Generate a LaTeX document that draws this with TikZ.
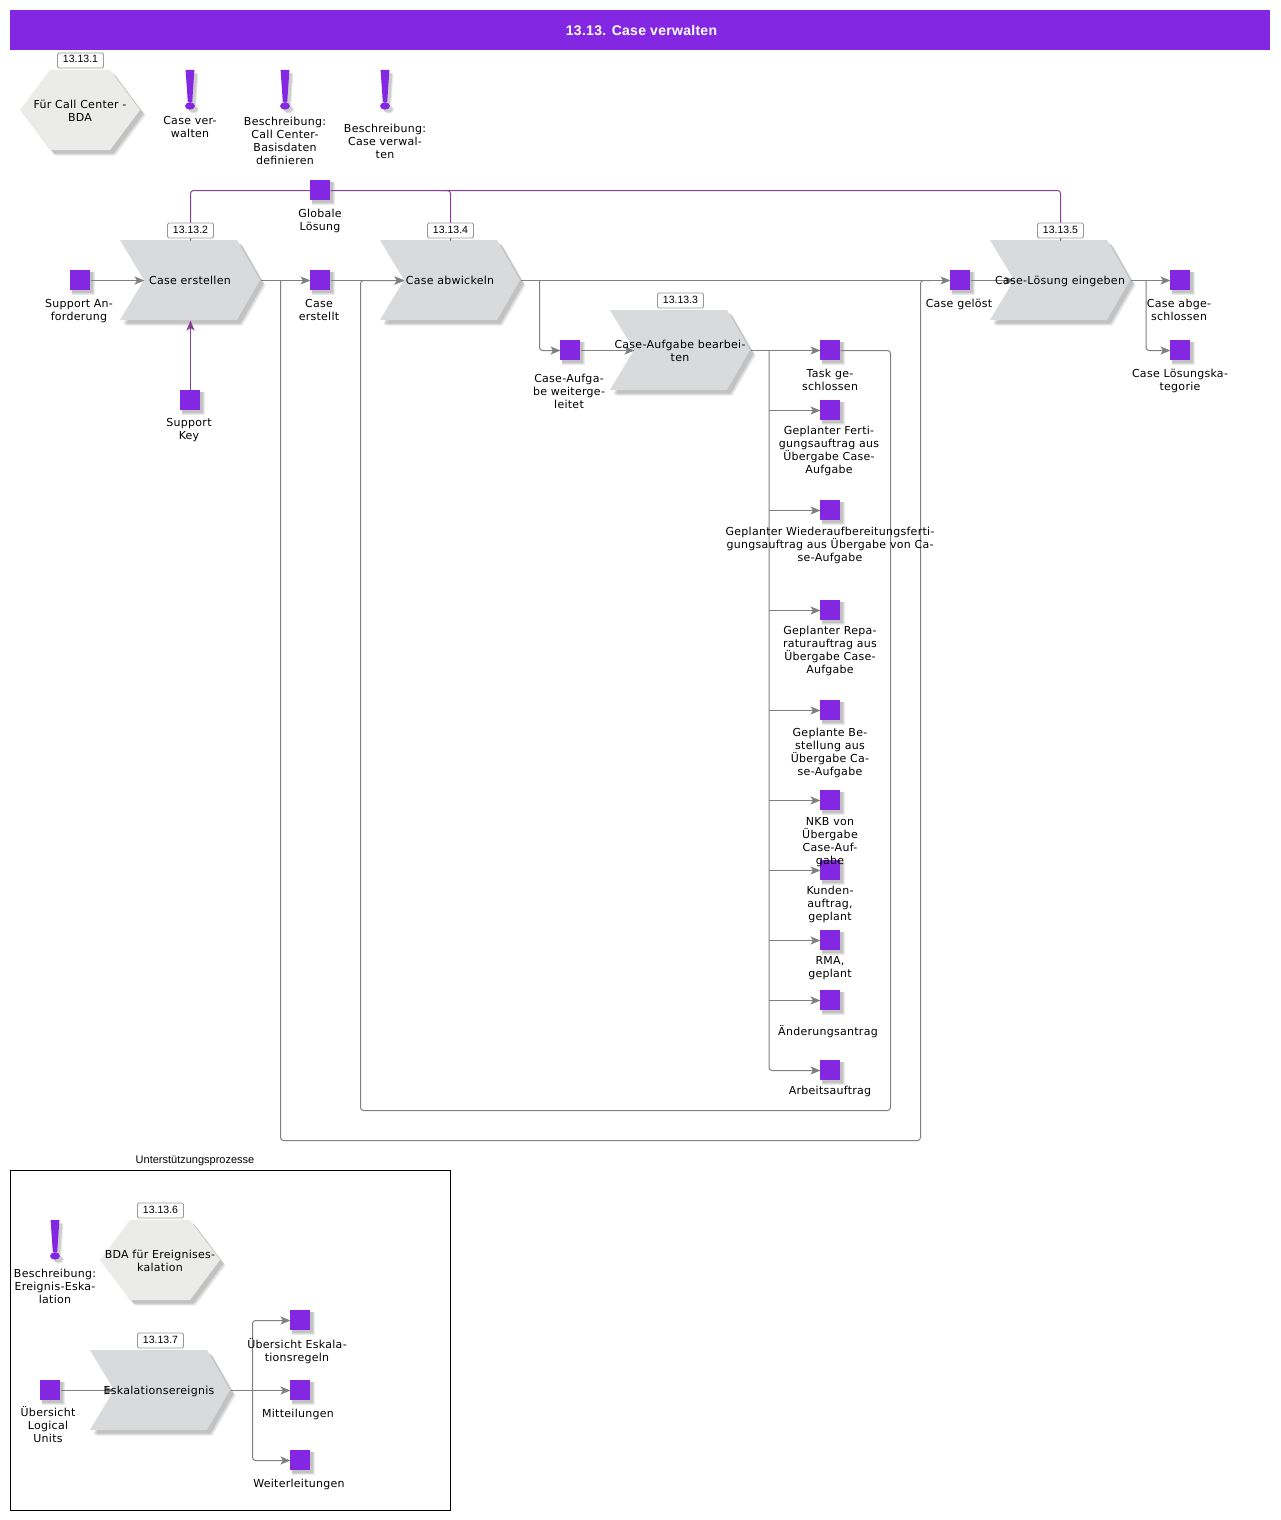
\documentclass[tikz,border=0pt]{standalone}
\usepackage{fontspec}
\setmainfont{DejaVu Sans}[LetterSpace=2.5]
\newfontfamily\libsans{Liberation Sans}
\newfontfamily\titlefont{Liberation Sans}[LetterSpace=2]
\usetikzlibrary{arrows.meta,calc}
\definecolor{evpurple}{HTML}{8427E2}
\definecolor{funcgray}{HTML}{D9DADC}
\definecolor{hexgray}{HTML}{EBEBEA}
\definecolor{linegray}{HTML}{808080}
\definecolor{infolink}{HTML}{883D98}
\definecolor{shadowgray}{HTML}{909090}
\tikzset{
  x=1pt,y=-1pt,
  evt/.style={fill=evpurple,inner sep=0pt,minimum size=20pt,outer sep=0pt},
  lab/.style={align=center,inner sep=0pt,outer sep=0pt,yshift=-1.5pt,font=\fontsize{11}{13}\selectfont,text=black,
    execute at begin node={\rule{0pt}{9pt}},execute at end node={\rule[-3pt]{0pt}{3pt}}},
  badge/.style={draw=black!40,fill=white,rounded corners=1.5pt,line width=.8pt,minimum width=46pt,minimum height=15pt,inner sep=0pt,text height=7.5pt,text depth=2.5pt,font=\libsans\fontsize{10.5}{12}\selectfont},
  tip/.style={-{Stealth[length=10pt,width=8pt,inset=2.5pt]}},
  flow/.style={draw=linegray,line width=1pt,rounded corners=3pt,tip},
  flowsharp/.style={draw=linegray,line width=1pt,tip},
  flowplain/.style={draw=linegray,line width=1pt,rounded corners=3pt},
  info/.style={draw=infolink,line width=1pt,rounded corners=3pt},
  softa/.style={fill=shadowgray,opacity=.18},
  softb/.style={fill=shadowgray,opacity=.3},
}
\newcommand{\evnode}[3]{%
  \fill[softa] (#2-8,#3-8) rectangle (#2+15,#3+15);
  \fill[softa] (#2-8,#3-8) rectangle (#2+14,#3+14);
  \fill[softb] (#2-8,#3-8) rectangle (#2+13,#3+13);
  \node[evt] (#1) at (#2,#3) {};}
\newcommand{\chevpath}{(-70,-40) -- (47,-40) -- (70,0) -- (47,40) -- (-70,40) -- (-46,0) -- cycle}
\newcommand{\chevnode}[3]{%
  \begin{scope}[shift={(#2+5.5,#3+5.5)}]\fill[softa] \chevpath;\end{scope}
  \begin{scope}[shift={(#2+4.5,#3+4.5)}]\fill[softa] \chevpath;\end{scope}
  \begin{scope}[shift={(#2+3.5,#3+3.5)}]\fill[softb] \chevpath;\end{scope}
  \begin{scope}[shift={(#2,#3)}]\fill[funcgray] \chevpath;\end{scope}
  \node[inner sep=0pt,outer sep=0pt,minimum width=140pt,minimum height=80pt] (#1) at (#2,#3) {};
  \coordinate (#1n) at (#2-46,#3);}
\newcommand{\hexpath}{(-60,0) -- (-30,-40) -- (30,-40) -- (60,0) -- (30,40) -- (-30,40) -- cycle}
\newcommand{\hexnode}[3]{%
  \begin{scope}[shift={(#2+5.5,#3+5.5)}]\fill[softa] \hexpath;\end{scope}
  \begin{scope}[shift={(#2+4.5,#3+4.5)}]\fill[softa] \hexpath;\end{scope}
  \begin{scope}[shift={(#2+3.5,#3+3.5)}]\fill[softb] \hexpath;\end{scope}
  \begin{scope}[shift={(#2,#3)}]\fill[hexgray] \hexpath;\end{scope}
  \node[inner sep=0pt,outer sep=0pt,minimum width=120pt,minimum height=80pt] (#1) at (#2,#3) {};}
\newcommand{\exclpath}{(-4.4,-20) -- (4.4,-20) -- (2.2,12) -- (-2.2,12) -- cycle (0,16) ellipse [x radius=5pt,y radius=3.6pt]}
\newcommand{\excl}[2]{%
  \begin{scope}[shift={(#1+4,#2+4)}]\fill[softa] \exclpath;\end{scope}
  \begin{scope}[shift={(#1+3,#2+3)}]\fill[softb] \exclpath;\end{scope}
  \begin{scope}[shift={(#1,#2)}]\fill[evpurple] \exclpath;\end{scope}}
\begin{document}
\begin{tikzpicture}
\useasboundingbox (0,0) rectangle (1280,1520);
\fill[white] (0,0) rectangle (1280,1520);
\node[fill=evpurple,minimum width=1260pt,minimum height=40pt,inner sep=0pt,outer sep=0pt] (title) at (640,30) {};
\node[text=white,inner sep=0pt,font=\titlefont\bfseries\fontsize{14}{16}\selectfont] (titletext) at (641.5,30.5) {13.13. Case verwalten};
\node[draw=black,line width=1pt,minimum width=440pt,minimum height=340pt,inner sep=0pt] (frame) at (230.5,1340.5) {};
\node[font=\libsans\fontsize{11}{13}\selectfont,inner sep=0pt] (frametitle) at (195,1161) {Unterstützungsprozesse};
\hexnode{h1}{80}{110}
\hexnode{h2}{160}{1260}
\excl{190}{90}
\excl{285}{90}
\excl{385}{90}
\excl{55}{1240}
\chevnode{f1}{190}{280}
\chevnode{f2}{450}{280}
\chevnode{f3}{680}{350}
\chevnode{f4}{1060}{280}
\chevnode{f5}{160}{1390}
\evnode{support}{80}{280}
\evnode{caseerst}{320}{280}
\evnode{key}{190}{400}
\evnode{global}{320}{190}
\evnode{weiter}{570}{350}
\evnode{task}{830}{350}
\evnode{ferti}{830}{410}
\evnode{wieder}{830}{510}
\evnode{repa}{830}{610}
\evnode{best}{830}{710}
\evnode{nkb}{830}{800}
\evnode{kunde}{830}{870}
\evnode{rma}{830}{940}
\evnode{aend}{830}{1000}
\evnode{arbeit}{830}{1070}
\evnode{geloest}{960}{280}
\evnode{abge}{1180}{280}
\evnode{loes}{1180}{350}
\evnode{logical}{50}{1390}
\evnode{regeln}{300}{1320}
\evnode{mitt}{300}{1390}
\evnode{weiterl}{300}{1460}
\coordinate (gj) at (440,190);
\coordinate (tr) at (768.5,350);
\coordinate (tr4) at (1145.5,280);
\coordinate (tr5) at (252,1390);
\coordinate (tr2) at (539,280);
\coordinate (tr1) at (280,280);
\coordinate (tr1e) at (930,280);
\begin{scope}[transform canvas={shift={(0.5,0.5)}}]
\draw[info] (global.west) -| (f1.north);
\draw[info] (global.east) -| (f4.north);
\draw[info] (gj) -| (f2.north);
\draw[draw=infolink,line width=1pt,tip] (key.north) -- (f1.south);
\draw[flow] (support.east) -- (f1n);
\draw[flow] (f1.east) -- (caseerst.west);
\draw[flow] (caseerst.east) -- (f2n);
\draw[flowplain] (tr1) -- (280,1140) -- (920,1140) -- (920,280) -- (tr1e);
\draw[flow] (f2.east) -- (geloest.west);
\draw[flow] (task.east) -- (890,350) -- (890,1110) -- (360,1110) -- (360,280) -- (f2n);
\draw[flow] (tr2) -- (539,350) -- (weiter.west);
\draw[flow] (weiter.east) -- (f3n);
\draw[flow] (f3.east) -- (task.west);
\draw[flow] (tr) |- (arbeit.west);
\foreach \t in {ferti,wieder,repa,best,nkb,kunde,rma,aend}
  \draw[flowsharp] (tr |- \t.west) -- (\t.west);
\draw[flow] (geloest.east) -- (f4n);
\draw[flow] (f4.east) -- (abge.west);
\draw[flow] (tr4) |- (loes.west);
\draw[flow] (logical.east) -- (f5n);
\draw[flow] (f5.east) -- (mitt.west);
\draw[flow] (tr5) |- (regeln.west);
\draw[flow] (tr5) |- (weiterl.west);
\node[badge] (b1) at (80,60) {13.13.1};
\node[badge] (b2) at (190,230) {13.13.2};
\node[badge] (b4) at (450,230) {13.13.4};
\node[badge] (b3) at (680,300) {13.13.3};
\node[badge] (b5) at (1060,230) {13.13.5};
\node[badge] (b6) at (160,1210) {13.13.6};
\node[badge] (b7) at (160,1340) {13.13.7};
\end{scope}
\node[lab] (t1) at (80,110.5) {Für Call Center -\\BDA};
\node[lab] (t2) at (190,126.5) {Case ver-\\walten};
\node[lab] (t3) at (285,141) {Beschreibung:\\Call Center-\\Basisdaten\\definieren};
\node[lab] (t4) at (385,141) {Beschreibung:\\Case verwal-\\ten};
\node[lab] (t5) at (320,219.5) {Globale\\Lösung};
\node[lab] (t6) at (79,309.5) {Support An-\\forderung};
\node[lab] (t7) at (190,280) {Case erstellen};
\node[lab] (t8) at (319,309.5) {Case\\erstellt};
\node[lab] (t9) at (189,428.5) {Support\\Key};
\node[lab] (t10) at (450,280) {Case abwickeln};
\node[lab] (t11) at (569,391) {Case-Aufga-\\be weiterge-\\leitet};
\node[lab] (t12) at (680,350.5) {Case-Aufgabe bearbei-\\ten};
\node[lab] (t13) at (830,379.5) {Task ge-\\schlossen};
\node[lab] (t14) at (829,450) {Geplanter Ferti-\\gungsauftrag aus\\Übergabe Case-\\Aufgabe};
\node[lab] (t15) at (830,544) {Geplanter Wiederaufbereitungsferti-\\gungsauftrag aus Übergabe von Ca-\\se-Aufgabe};
\node[lab] (t16) at (830,650) {Geplanter Repa-\\raturauftrag aus\\Übergabe Case-\\Aufgabe};
\node[lab] (t17) at (830,752) {Geplante Be-\\stellung aus\\Übergabe Ca-\\se-Aufgabe};
\node[lab] (t18) at (830,841) {NKB von\\Übergabe\\Case-Auf-\\gabe};
\node[lab] (t19) at (830,903) {Kunden-\\auftrag,\\geplant};
\node[lab] (t20) at (830,966.5) {RMA,\\geplant};
\node[lab] (t21) at (828,1030) {Änderungsantrag};
\node[lab] (t22) at (830,1090) {Arbeitsauftrag};
\node[lab] (t23) at (959,303) {Case gelöst};
\node[lab] (t24) at (1060,280) {Case-Lösung eingeben};
\node[lab] (t25) at (1179,309.5) {Case abge-\\schlossen};
\node[lab] (t26) at (1180,379.5) {Case Lösungska-\\tegorie};
\node[lab] (t27) at (55,1286) {Beschreibung:\\Ereignis-Eska-\\lation};
\node[lab] (t28) at (160,1260.5) {BDA für Ereignises-\\kalation};
\node[lab] (t29) at (48,1424) {Übersicht\\Logical\\Units};
\node[lab] (t30) at (159,1390) {Eskalationsereignis};
\node[lab] (t31) at (297,1349.5) {Übersicht Eskala-\\tionsregeln};
\node[lab] (t32) at (298,1413) {Mitteilungen};
\node[lab] (t33) at (299,1483) {Weiterleitungen};
\end{tikzpicture}
\end{document}
